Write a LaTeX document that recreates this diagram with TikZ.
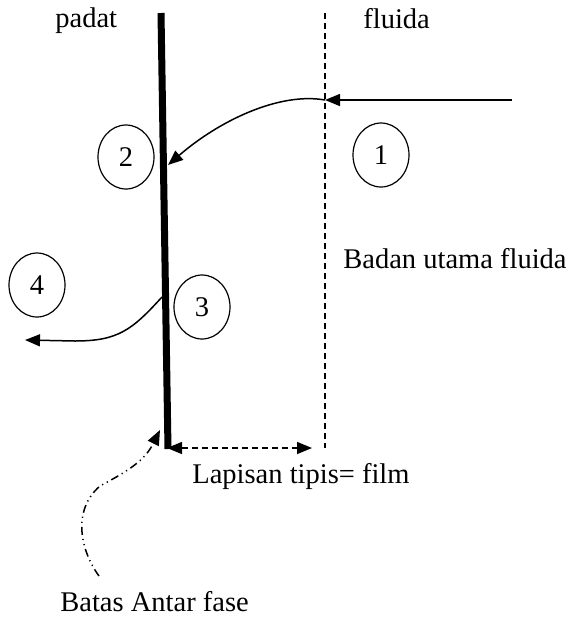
\documentclass[tikz,border=0pt]{standalone}
\usepackage{fontspec}
\setmainfont{Liberation Serif}
\usetikzlibrary{arrows.meta,shapes.geometric}
\begin{document}
\begin{tikzpicture}[x=0.5pt,y=-0.5pt,
  lbl/.style={anchor=base west,inner sep=0pt,font=\fontsize{14.25}{17}\selectfont},
  num/.style={draw,ellipse,line width=0.6pt,minimum width=28pt,minimum height=32pt,inner sep=0pt,font=\fontsize{14.25}{17}\selectfont},
  conn/.style={line width=0.75pt,-{Triangle[length=7.5pt,width=6pt]}},
  wall/.style={line width=3.5pt},
  film/.style={line width=0.75pt,dash pattern=on 3pt off 2pt},
  hint/.style={line width=0.75pt,dash pattern=on 4pt off 2pt on 0.6pt off 2pt on 0.6pt off 2pt,-{Triangle[length=7.5pt,width=6pt]}},
]
\useasboundingbox (0,0) rectangle (572,617);
% coordinates
\coordinate (wt) at (161,13);
\coordinate (wb) at (168,449);
\coordinate (ft) at (325,13);
\coordinate (fb) at (325,448);
\coordinate (in) at (512,100);
\coordinate (p1) at (325,100);
\coordinate (a2) at (168,165);
\coordinate (s3) at (162,297);
\coordinate (a4) at (25,340);
\coordinate (dl) at (167,448);
\coordinate (dr) at (312,448);
\coordinate (hs) at (99,576);
\coordinate (ht) at (160,430);
% walls
\draw[wall] (wt) -- (wb);
\draw[film] (ft) -- (fb);
% numbered circles
\node[num] (c1) at (381,155) {1};
\node[num] (c2) at (126,157) {2};
\node[num] (c3) at (202,307) {3};
\node[num] (c4) at (37,285) {4};
% arrows
\draw[conn] (in) -- (p1);
\draw[conn] (p1) .. controls (280,92) and (220,120) .. (a2);
\draw[conn] (s3) .. controls (132,330) and (118,341) .. (75,341) -- (a4);
\draw[film,{Triangle[length=7.5pt,width=6pt]}-{Triangle[length=7.5pt,width=6pt]}] (dl) -- (dr);
\draw[hint] (hs) .. controls (80,550) and (72,510) .. (100,486) .. controls (130,470) and (145,460) .. (ht);
% labels
\node[lbl] (tpadat) at (55,27) {padat};
\node[lbl] (tfluida) at (363,28) {fluida};
\node[lbl] (tbadan) at (343,268) {Badan utama fluida};
\node[lbl] (tlap) at (192,483) {Lapisan tipis= film};
\node[lbl] (tbatas) at (60,611) {Batas Antar fase};
\end{tikzpicture}
\end{document}
